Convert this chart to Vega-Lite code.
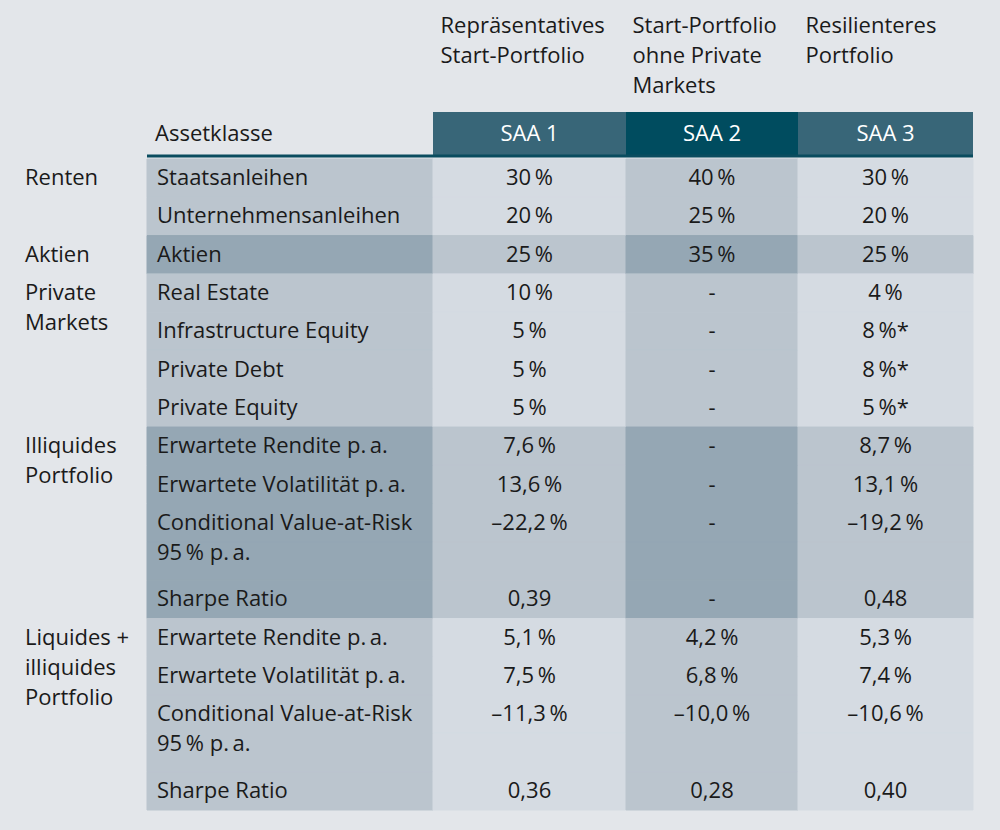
{
  "$schema": "https://vega.github.io/schema/vega-lite/v6.json",
  "background": "#e3e6ea",
  "padding": {"top": 15, "left": 0, "right": 27, "bottom": 23},
  "spacing": 0,
  "config": {
    "view": {"stroke": null},
    "font": "Open Sans",
    "text": {"font": "Open Sans", "fontSize": 22, "color": "#1a1a1a", "baseline": "middle"},
    "title": {"font": "Open Sans", "fontSize": 22, "fontWeight": "normal", "anchor": "start", "color": "#1a1a1a", "lineHeight": 30, "dx": 9, "offset": 14},
    "concat": {"spacing": 0}
  },
  "datasets": {
    "rows": [
      {"line": "L01", "grp": "Renten", "label": "Renten", "asset": "Staatsanleihen", "s1": "30\u2009%", "s2": "40\u2009%", "s3": "30\u2009%"},
      {"line": "L02", "grp": "Renten", "label": "", "asset": "Unternehmensanleihen", "s1": "20\u2009%", "s2": "25\u2009%", "s3": "20\u2009%"},
      {"line": "L03", "grp": "Aktien", "label": "Aktien", "asset": "Aktien", "s1": "25\u2009%", "s2": "35\u2009%", "s3": "25\u2009%"},
      {"line": "L04", "grp": "Private Markets", "label": "Private\nMarkets", "asset": "Real Estate", "s1": "10\u2009%", "s2": "-", "s3": "4\u2009%"},
      {"line": "L05", "grp": "Private Markets", "label": "", "asset": "Infrastructure Equity", "s1": "5\u2009%", "s2": "-", "s3": "8\u2009%*"},
      {"line": "L06", "grp": "Private Markets", "label": "", "asset": "Private Debt", "s1": "5\u2009%", "s2": "-", "s3": "8\u2009%*"},
      {"line": "L07", "grp": "Private Markets", "label": "", "asset": "Private Equity", "s1": "5\u2009%", "s2": "-", "s3": "5\u2009%*"},
      {"line": "L08", "grp": "Illiquides Portfolio", "label": "Illiquides\nPortfolio", "asset": "Erwartete Rendite p.\u2009a.", "s1": "7,6\u2009%", "s2": "-", "s3": "8,7\u2009%"},
      {"line": "L09", "grp": "Illiquides Portfolio", "label": "", "asset": "Erwartete Volatilität p.\u2009a.", "s1": "13,6\u2009%", "s2": "-", "s3": "13,1\u2009%"},
      {"line": "L10", "grp": "Illiquides Portfolio", "label": "", "asset": "Conditional Value-at-Risk\n95\u2009% p.\u2009a.", "s1": "–22,2\u2009%", "s2": "-", "s3": "–19,2\u2009%"},
      {"line": "L11", "grp": "Illiquides Portfolio", "label": "", "asset": "", "s1": "", "s2": "", "s3": ""},
      {"line": "L12", "grp": "Illiquides Portfolio", "label": "", "asset": "Sharpe Ratio", "s1": "0,39", "s2": "-", "s3": "0,48"},
      {"line": "L13", "grp": "Liquides + illiquides Portfolio", "label": "Liquides +\nilliquides\nPortfolio", "asset": "Erwartete Rendite p.\u2009a.", "s1": "5,1\u2009%", "s2": "4,2\u2009%", "s3": "5,3\u2009%"},
      {"line": "L14", "grp": "Liquides + illiquides Portfolio", "label": "", "asset": "Erwartete Volatilität p.\u2009a.", "s1": "7,5\u2009%", "s2": "6,8\u2009%", "s3": "7,4\u2009%"},
      {"line": "L15", "grp": "Liquides + illiquides Portfolio", "label": "", "asset": "Conditional Value-at-Risk\n95\u2009% p.\u2009a.", "s1": "–11,3\u2009%", "s2": "–10,0\u2009%", "s3": "–10,6\u2009%"},
      {"line": "L16", "grp": "Liquides + illiquides Portfolio", "label": "", "asset": "", "s1": "", "s2": "", "s3": ""},
      {"line": "L17", "grp": "Liquides + illiquides Portfolio", "label": "", "asset": "Sharpe Ratio", "s1": "0,36", "s2": "0,28", "s3": "0,40"}
    ]
  },
  "vconcat": [
    {
      "bounds": "flush",
      "spacing": 0,
      "hconcat": [
        {
          "width": 147, "height": 44,
          "data": {"values": [{"h": ""}]},
          "mark": {"type": "text"},
          "encoding": {"text": {"field": "h"}}
        },
        {
          "width": 286, "height": 44,
          "data": {"values": [{"h": "Assetklasse"}]},
          "encoding": {
            "y": {"field": "h", "type": "nominal", "axis": null, "scale": {"type": "band", "paddingInner": 0, "paddingOuter": 0}}
          },
          "layer": [
            {
              "mark": {"type": "text", "align": "left", "dx": 8},
              "encoding": {
                "x": {"field": "h", "type": "nominal", "axis": null, "bandPosition": 0, "scale": {"type": "band", "paddingInner": 0, "paddingOuter": 0}},
                "text": {"field": "h"}
              }
            },
            {
              "mark": {"type": "rule", "color": "#0a4c5f", "strokeWidth": 3},
              "encoding": {"y": {"field": "h", "type": "nominal", "axis": null, "bandPosition": 1, "scale": {"type": "band", "paddingInner": 0, "paddingOuter": 0}}}
            }
          ]
        },
        {
          "width": 193, "height": 44,
          "title": {"text": ["Repräsentatives", "Start-Portfolio", " "]},
          "data": {"values": [{"h": "SAA 1"}]},
          "encoding": {
            "y": {"field": "h", "type": "nominal", "axis": null, "scale": {"type": "band", "paddingInner": 0, "paddingOuter": 0}},
            "x": {"field": "h", "type": "nominal", "axis": null, "scale": {"type": "band", "paddingInner": 0, "paddingOuter": 0}}
          },
          "layer": [
            {"mark": {"type": "rect", "fill": "#386678"}},
            {"mark": {"type": "text", "color": "#ffffff"}, "encoding": {"text": {"field": "h"}}},
            {
              "mark": {"type": "rule", "color": "#0a4c5f", "strokeWidth": 3},
              "encoding": {"x": null, "y": {"field": "h", "type": "nominal", "axis": null, "bandPosition": 1, "scale": {"type": "band", "paddingInner": 0, "paddingOuter": 0}}}
            }
          ]
        },
        {
          "width": 172, "height": 44,
          "title": {"text": ["Start-Portfolio", "ohne Private", "Markets"], "dx": 8},
          "data": {"values": [{"h": "SAA 2"}]},
          "encoding": {
            "y": {"field": "h", "type": "nominal", "axis": null, "scale": {"type": "band", "paddingInner": 0, "paddingOuter": 0}},
            "x": {"field": "h", "type": "nominal", "axis": null, "scale": {"type": "band", "paddingInner": 0, "paddingOuter": 0}}
          },
          "layer": [
            {"mark": {"type": "rect", "fill": "#004c5f"}},
            {"mark": {"type": "text", "color": "#ffffff"}, "encoding": {"text": {"field": "h"}}},
            {
              "mark": {"type": "rule", "color": "#0a4c5f", "strokeWidth": 3},
              "encoding": {"x": null, "y": {"field": "h", "type": "nominal", "axis": null, "bandPosition": 1, "scale": {"type": "band", "paddingInner": 0, "paddingOuter": 0}}}
            }
          ]
        },
        {
          "width": 175, "height": 44,
          "title": {"text": ["Resilienteres", "Portfolio", " "]},
          "data": {"values": [{"h": "SAA 3"}]},
          "encoding": {
            "y": {"field": "h", "type": "nominal", "axis": null, "scale": {"type": "band", "paddingInner": 0, "paddingOuter": 0}},
            "x": {"field": "h", "type": "nominal", "axis": null, "scale": {"type": "band", "paddingInner": 0, "paddingOuter": 0}}
          },
          "layer": [
            {"mark": {"type": "rect", "fill": "#386678"}},
            {"mark": {"type": "text", "color": "#ffffff"}, "encoding": {"text": {"field": "h"}}},
            {
              "mark": {"type": "rule", "color": "#0a4c5f", "strokeWidth": 3},
              "encoding": {"x": null, "y": {"field": "h", "type": "nominal", "axis": null, "bandPosition": 1, "scale": {"type": "band", "paddingInner": 0, "paddingOuter": 0}}}
            }
          ]
        }
      ]
    },
    {
      "bounds": "flush",
      "spacing": 0,
      "hconcat": [
        {
          "width": 147, "height": 651,
          "data": {"name": "rows"},
          "mark": {"type": "text", "align": "left", "dx": 25, "lineBreak": "\n", "lineHeight": 30},
          "encoding": {
            "y": {"field": "line", "type": "ordinal", "axis": null, "scale": {"type": "band", "paddingInner": 0, "paddingOuter": 0}},
            "x": {"datum": "Gruppe", "type": "nominal", "axis": null, "bandPosition": 0, "scale": {"type": "band", "paddingInner": 0, "paddingOuter": 0}},
            "text": {"field": "label"}
          }
        },
        {
          "width": 286, "height": 651,
          "data": {"name": "rows"},
          "encoding": {
            "y": {"field": "line", "type": "ordinal", "axis": null, "scale": {"type": "band", "paddingInner": 0, "paddingOuter": 0}}
          },
          "layer": [
            {
              "mark": {"type": "rect", "strokeWidth": 1},
              "encoding": {
                "x": {"datum": "Assetklasse", "type": "nominal", "axis": null, "scale": {"type": "band", "paddingInner": 0, "paddingOuter": 0}},
                "fill": {"condition": {"test": "datum.grp === 'Aktien' || datum.grp === 'Illiquides Portfolio'", "value": "#95a7b4"}, "value": "#bbc5ce"},
                "stroke": {"condition": {"test": "datum.grp === 'Aktien' || datum.grp === 'Illiquides Portfolio'", "value": "#95a7b4"}, "value": "#bbc5ce"}
              }
            },
            {
              "mark": {"type": "text", "align": "left", "dx": 10, "lineBreak": "\n", "lineHeight": 30},
              "encoding": {
                "x": {"datum": "Assetklasse", "type": "nominal", "axis": null, "bandPosition": 0, "scale": {"type": "band", "paddingInner": 0, "paddingOuter": 0}},
                "text": {"field": "asset"}
              }
            }
          ]
        },
        {
          "width": 193, "height": 651,
          "data": {"name": "rows"},
          "encoding": {
            "y": {"field": "line", "type": "ordinal", "axis": null, "scale": {"type": "band", "paddingInner": 0, "paddingOuter": 0}},
            "x": {"datum": "SAA 1", "type": "nominal", "axis": null, "scale": {"type": "band", "paddingInner": 0, "paddingOuter": 0}}
          },
          "layer": [
            {
              "mark": {"type": "rect", "strokeWidth": 1},
              "encoding": {
                "fill": {"condition": {"test": "datum.grp === 'Aktien' || datum.grp === 'Illiquides Portfolio'", "value": "#bbc5ce"}, "value": "#d5dbe2"},
                "stroke": {"condition": {"test": "datum.grp === 'Aktien' || datum.grp === 'Illiquides Portfolio'", "value": "#bbc5ce"}, "value": "#d5dbe2"}
              }
            },
            {"mark": {"type": "text"}, "encoding": {"text": {"field": "s1"}}}
          ]
        },
        {
          "width": 172, "height": 651,
          "data": {"name": "rows"},
          "encoding": {
            "y": {"field": "line", "type": "ordinal", "axis": null, "scale": {"type": "band", "paddingInner": 0, "paddingOuter": 0}},
            "x": {"datum": "SAA 2", "type": "nominal", "axis": null, "scale": {"type": "band", "paddingInner": 0, "paddingOuter": 0}}
          },
          "layer": [
            {
              "mark": {"type": "rect", "strokeWidth": 1},
              "encoding": {
                "fill": {"condition": {"test": "datum.grp === 'Aktien' || datum.grp === 'Illiquides Portfolio'", "value": "#95a7b4"}, "value": "#bbc5ce"},
                "stroke": {"condition": {"test": "datum.grp === 'Aktien' || datum.grp === 'Illiquides Portfolio'", "value": "#95a7b4"}, "value": "#bbc5ce"}
              }
            },
            {"mark": {"type": "text"}, "encoding": {"text": {"field": "s2"}}}
          ]
        },
        {
          "width": 175, "height": 651,
          "data": {"name": "rows"},
          "encoding": {
            "y": {"field": "line", "type": "ordinal", "axis": null, "scale": {"type": "band", "paddingInner": 0, "paddingOuter": 0}},
            "x": {"datum": "SAA 3", "type": "nominal", "axis": null, "scale": {"type": "band", "paddingInner": 0, "paddingOuter": 0}}
          },
          "layer": [
            {
              "mark": {"type": "rect", "strokeWidth": 1},
              "encoding": {
                "fill": {"condition": {"test": "datum.grp === 'Aktien' || datum.grp === 'Illiquides Portfolio'", "value": "#bbc5ce"}, "value": "#d5dbe2"},
                "stroke": {"condition": {"test": "datum.grp === 'Aktien' || datum.grp === 'Illiquides Portfolio'", "value": "#bbc5ce"}, "value": "#d5dbe2"}
              }
            },
            {"mark": {"type": "text"}, "encoding": {"text": {"field": "s3"}}}
          ]
        }
      ]
    }
  ]
}
